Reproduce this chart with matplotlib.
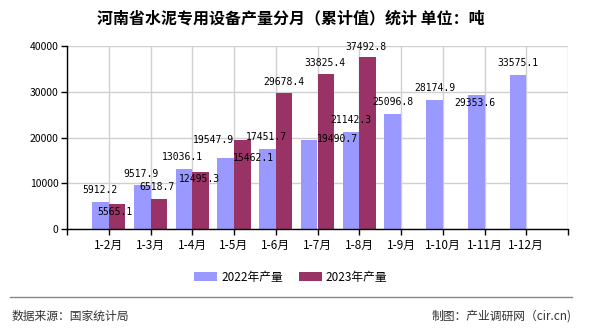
import matplotlib
matplotlib.use('Agg')
import matplotlib.pyplot as plt
from matplotlib.lines import Line2D
import numpy as np

plt.rcParams['font.family'] = ['Noto Sans CJK SC', 'DejaVu Sans']

# dados
meses = ['1-2月', '1-3月', '1-4月', '1-5月', '1-6月', '1-7月', '1-8月',
         '1-9月', '1-10月', '1-11月', '1-12月']
prod_2022 = [5912.2, 9517.9, 13036.1, 15462.1, 17451.7, 19490.7, 21142.3,
             25096.8, 28174.9, 29353.6, 33575.1]
prod_2023 = [5565.1, 6518.7, 12495.3, 19547.9, 29678.4, 33825.4, 37492.8]

# deslocamento dos rótulos (pontos), só estilo
off_2022 = [(0, 8.6), (-1, 8.6), (-1, 8.6), (20, 0), (-1, 8.6), (20, 0.7),
            (0, 8.6), (0, 8.6), (0, 8.6), (-1, -5.8), (0, 8.6)]
off_2023 = [(-1.5, -6), (-1.5, 8.6), (-1, -5), (-21, 0), (0, 8), (-1, 8), (-1, 7.6)]

cor_2022 = '#9999FF'
cor_2023 = '#993366'

fig = plt.figure(figsize=(5.9, 3.3), dpi=100)
ax = fig.add_axes([67/590, 1-229/330, 501/590, 183/330])

x = np.arange(1, len(meses) + 1)
x23 = x[:len(prod_2023)]
w = 0.4
ax.bar(x - w/2, prod_2022, w, color=cor_2022, label='2022年产量', zorder=2)
ax.bar(x23 + w/2, prod_2023, w, color=cor_2023, label='2023年产量', zorder=2)

for xi, v, o in zip(x, prod_2022, off_2022):
    ax.annotate(f'{v:.1f}', (xi - w/2, v), xytext=o, textcoords='offset points',
                ha='center', va='center', fontsize=7, family='DejaVu Sans Mono', zorder=3)
for xi, v, o in zip(x23, prod_2023, off_2023):
    ax.annotate(f'{v:.1f}', (xi + w/2, v), xytext=o, textcoords='offset points',
                ha='center', va='center', fontsize=7, family='DejaVu Sans Mono', zorder=3)

ax.set_xlim(0, 12)
ax.set_ylim(0, 40000)
ax.set_yticks([0, 10000, 20000, 30000, 40000])
ax.set_xticks(np.arange(0, 13))
ax.set_xticklabels([''] + meses + [''])
ax.tick_params(axis='x', labelsize=8.5, length=4, width=1, pad=3)
ax.tick_params(axis='y', labelsize=7.5, length=4, width=1, pad=2)
ax.grid(True, color='#d0d0d0', linewidth=1, zorder=0)
ax.set_axisbelow(True)
for s in ['top', 'right']:
    ax.spines[s].set_visible(False)
ax.spines['left'].set_linewidth(1)
ax.spines['bottom'].set_linewidth(1)

fig.text(291/590, 1-18/330, '河南省水泥专用设备产量分月（累计值）统计 单位：吨',
         ha='center', va='center', fontsize=11.5, fontweight='bold')

fig.legend(loc='center', bbox_to_anchor=(291/590, 1-277/330), ncol=2, frameon=False,
           fontsize=8.5, handlelength=1.9, handleheight=0.7, handletextpad=0.35,
           columnspacing=1.4)

fig.add_artist(Line2D([10/590, 572/590], [1-297/330, 1-297/330], color='#888888', lw=1))
fig.text(12/590, 1-316/330, '数据来源：国家统计局', ha='left', va='center',
         fontsize=8.5, color='#333333')
fig.text(572/590, 1-316/330, '制图：产业调研网（cir.cn)', ha='right', va='center',
         fontsize=8.5, color='#333333')

plt.savefig('out.png', dpi=100)
